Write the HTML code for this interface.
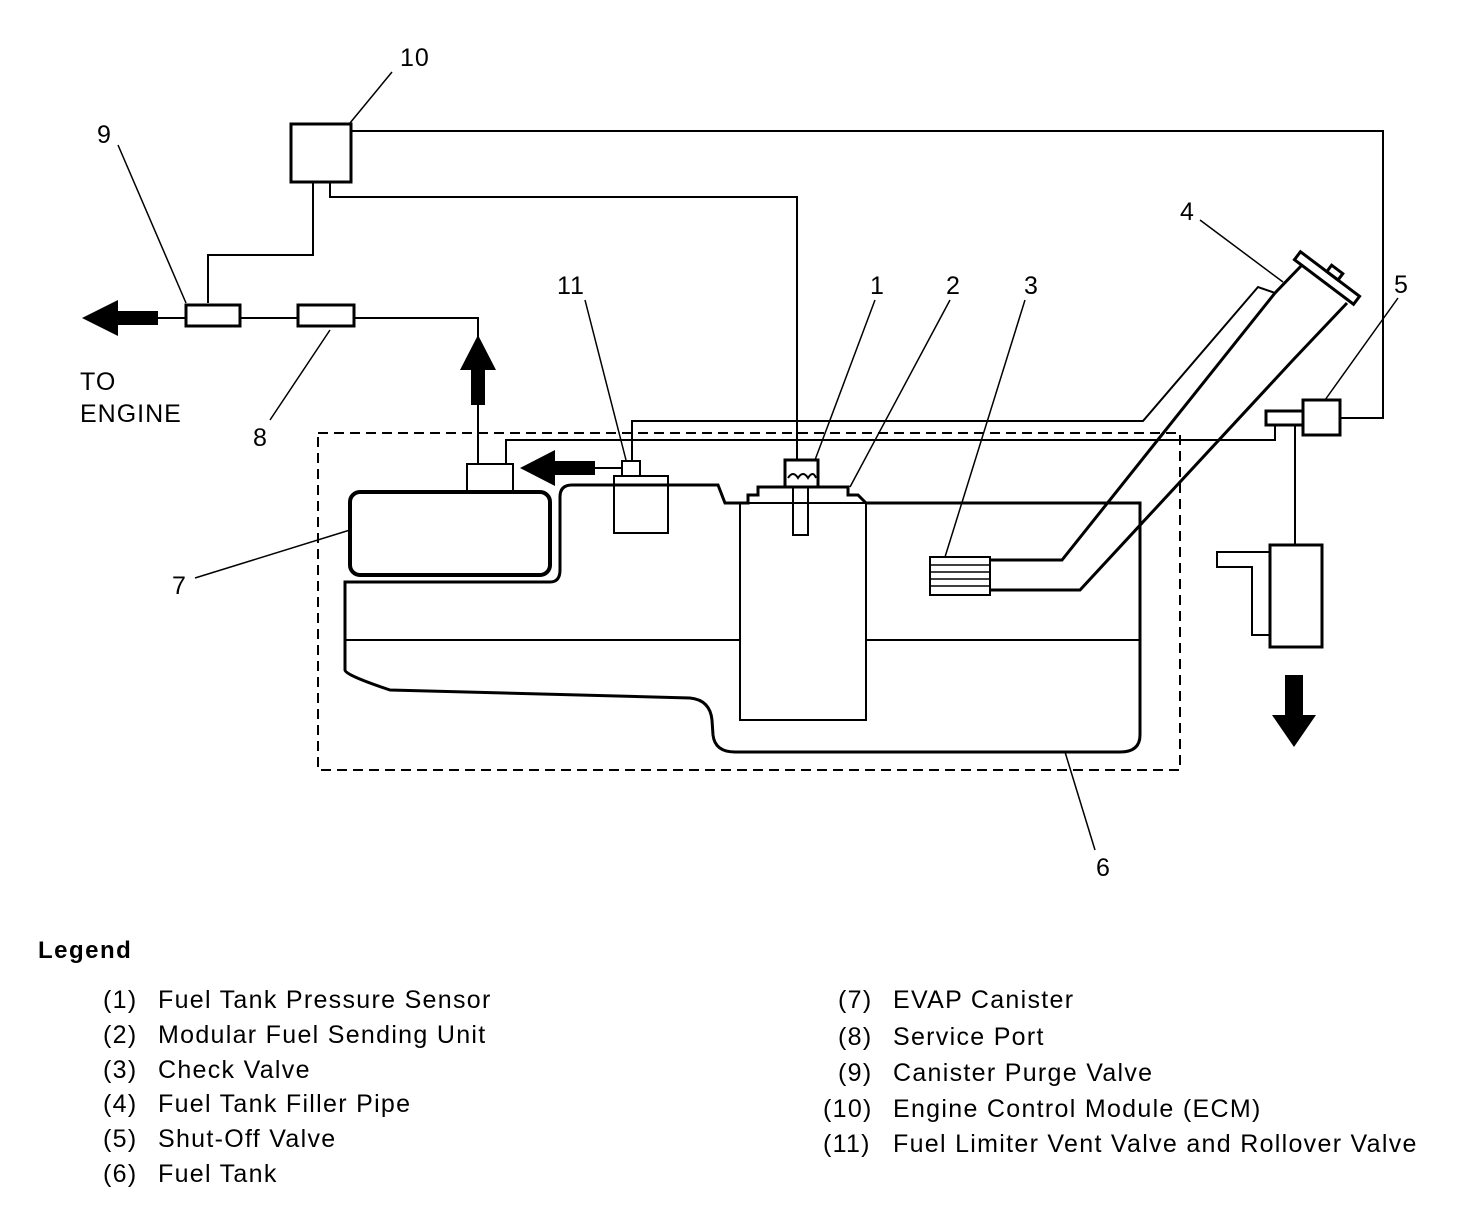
<!DOCTYPE html>
<html><head><style>
body{margin:0;background:#fff;}
svg{display:block;}
text{font-family:"Liberation Sans",sans-serif;fill:#000;}
</style></head><body>
<svg width="1472" height="1216" viewBox="0 0 1472 1216" xmlns="http://www.w3.org/2000/svg">
<g fill="none" stroke="#000" stroke-width="2">
<rect x="291" y="124" width="60" height="58" stroke-width="3"/>
<polyline points="351,131 1383,131 1383,418 1340,418"/>
<polyline points="313,182 313,255 208,255 208,303"/>
<polyline points="330,182 330,197 797,197 797,460"/>
<rect x="186" y="305" width="54" height="21" stroke-width="3"/>
<rect x="298" y="305" width="56" height="21" stroke-width="3"/>
<line x1="158" y1="318" x2="186" y2="318"/>
<line x1="240" y1="318" x2="298" y2="318"/>
<polyline points="354,318 478,318 478,340"/>
<line x1="478" y1="405" x2="478" y2="464"/>
<rect x="318" y="433" width="862" height="337" stroke-dasharray="10,6"/>
<rect x="350" y="492" width="200" height="83" rx="10" stroke-width="4"/>
<rect x="467" y="464" width="46" height="28"/>
<polyline points="506,464 506,440 1275,440 1275,425"/>
<polyline points="632,460 632,421 1143,421 1258,287 1275,293"/>
<line x1="595" y1="468" x2="622" y2="468"/>
<rect x="622" y="461" width="18" height="15"/>
<rect x="614" y="476" width="54" height="57"/>
<path d="M345,582 L550,582 Q560,582 560,570 L560,497 Q560,485 572,485 L718,485 L725,503 L740,503 L748,503 L748,495 L758,495 L758,487 L848,487 L848,495 L858,495 L866,503 L1140,503 L1140,735 Q1140,752 1120,752 L735,752 Q715,752 713,735 L712,720 Q710,700 690,698 L390,690 Q345,675 345,670 Z" stroke-width="3"/>
<rect x="740" y="503" width="126" height="217"/>
<line x1="345" y1="640" x2="740" y2="640"/>
<line x1="866" y1="640" x2="1140" y2="640"/>
<rect x="785" y="460" width="33" height="27" stroke-width="3"/>
<path d="M788,478 q5,-8 10,0 q5,-8 10,0 q5,-8 8,0"/>
<rect x="793" y="487" width="15" height="48"/>
<!-- filler pipe -->
<polyline points="1302,265 1275,293 1062,560 990,560" stroke-width="3"/>
<polyline points="1347,303 1293,360 1080,590 990,590" stroke-width="3"/>
<rect x="930" y="557" width="60" height="38"/>
<g stroke-width="1.5"><line x1="930" y1="565" x2="990" y2="565"/><line x1="930" y1="572" x2="990" y2="572"/><line x1="930" y1="579" x2="990" y2="579"/><line x1="930" y1="586" x2="990" y2="586"/></g>
<g transform="translate(1327,278) rotate(37)">
<rect x="-37" y="-5" width="74" height="10" stroke-width="3"/>
<rect x="-4" y="-13" width="14" height="8" stroke-width="3"/>
</g>
<rect x="1303" y="400" width="37" height="35" stroke-width="3"/>
<rect x="1266" y="411" width="37" height="14" stroke-width="3"/>
<line x1="1295" y1="425" x2="1295" y2="545"/>
<rect x="1270" y="545" width="52" height="102" stroke-width="3"/>
<polyline points="1270,552 1217,552 1217,567 1252,567 1252,635 1270,635"/>
<g stroke-width="1.5">
<line x1="392" y1="72" x2="350" y2="123"/>
<line x1="118" y1="145" x2="186" y2="303"/>
<line x1="270" y1="420" x2="330" y2="330"/>
<line x1="585" y1="300" x2="626" y2="460"/>
<line x1="875" y1="300" x2="815" y2="460"/>
<line x1="950" y1="300" x2="850" y2="487"/>
<line x1="1025" y1="300" x2="945" y2="557"/>
<line x1="1200" y1="220" x2="1283" y2="282"/>
<line x1="1398" y1="298" x2="1325" y2="400"/>
<line x1="1095" y1="850" x2="1065" y2="752"/>
<line x1="195" y1="578" x2="350" y2="530"/>
</g>
</g>
<g fill="#000">
<polygon points="82,318 118,300 118,311 158,311 158,325 118,325 118,336"/>
<polygon points="478,335 460,370 471,370 471,405 485,405 485,370 496,370"/>
<polygon points="520,468 555,450 555,461 595,461 595,475 555,475 555,486"/>
<polygon points="1294,747 1272,715 1285,715 1285,675 1303,675 1303,715 1316,715"/>
</g>
<g font-size="25" letter-spacing="1">
<text x="80" y="390">TO</text>
<text x="80" y="422">ENGINE</text>
<text x="400" y="66">10</text>
<text x="97" y="143">9</text>
<text x="253" y="446">8</text>
<text x="557" y="294">11</text>
<text x="870" y="294">1</text>
<text x="946" y="294">2</text>
<text x="1024" y="294">3</text>
<text x="1180" y="220">4</text>
<text x="1394" y="293">5</text>
<text x="1096" y="876">6</text>
<text x="172" y="594">7</text>
</g>
<text x="38" y="958" font-size="24" font-weight="bold" letter-spacing="1.5">Legend</text>
<g font-size="25" letter-spacing="1.3">
<text x="103" y="1008">(1)</text><text x="158" y="1008">Fuel Tank Pressure Sensor</text>
<text x="103" y="1043">(2)</text><text x="158" y="1043">Modular Fuel Sending Unit</text>
<text x="103" y="1078">(3)</text><text x="158" y="1078">Check Valve</text>
<text x="103" y="1112">(4)</text><text x="158" y="1112">Fuel Tank Filler Pipe</text>
<text x="103" y="1147">(5)</text><text x="158" y="1147">Shut-Off Valve</text>
<text x="103" y="1182">(6)</text><text x="158" y="1182">Fuel Tank</text>
<text x="838" y="1008">(7)</text><text x="893" y="1008">EVAP Canister</text>
<text x="838" y="1045">(8)</text><text x="893" y="1045">Service Port</text>
<text x="838" y="1081">(9)</text><text x="893" y="1081">Canister Purge Valve</text>
<text x="823" y="1117">(10)</text><text x="893" y="1117">Engine Control Module (ECM)</text>
<text x="823" y="1152">(11)</text><text x="893" y="1152">Fuel Limiter Vent Valve and Rollover Valve</text>
</g>
</svg>
</body></html>
